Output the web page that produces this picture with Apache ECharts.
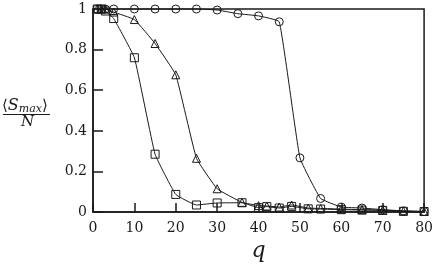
<!DOCTYPE html>
<html>
<head>
<meta charset="utf-8">
<script src="https://cdn.jsdelivr.net/npm/echarts@6/dist/echarts.min.js"></script>
<style>html,body{margin:0;padding:0;background:#fff;}#c{width:436px;height:267px;}</style>
</head>
<body>
<div id="c"></div>
<script>
var xTicks = [0, 10, 20, 30, 40, 50, 60, 70, 80];
var yTicks = [0, 0.2, 0.4, 0.6, 0.8, 1];

var qCircle = [1, 2, 3, 5, 10, 15, 20, 25, 30, 35, 40, 45, 50, 55, 60, 65, 70, 75, 80];
var sCircle = [1, 1, 1, 1, 1, 1, 1, 1, 0.995, 0.977, 0.966, 0.937, 0.267, 0.067, 0.025, 0.02, 0.012, 0.006, 0.003];

var qTriangle = [1, 2, 3, 5, 10, 15, 20, 25, 30, 36, 40, 42, 45, 48, 52, 55, 60, 65, 70, 75, 80];
var sTriangle = [1, 1, 1, 0.985, 0.948, 0.83, 0.676, 0.265, 0.115, 0.048, 0.032, 0.03, 0.025, 0.035, 0.02, 0.018, 0.015, 0.012, 0.01, 0.005, 0.003];

var qSquare = [1, 2, 3, 5, 10, 15, 20, 25, 30, 36, 40, 42, 45, 48, 52, 55, 60, 65, 70, 75, 80];
var sSquare = [1, 1, 0.99, 0.953, 0.76, 0.285, 0.087, 0.035, 0.045, 0.046, 0.022, 0.027, 0.02, 0.028, 0.016, 0.015, 0.012, 0.01, 0.008, 0.004, 0.003];

function pairs(xs, ys) { return xs.map(function (x, i) { return [x, ys[i]]; }); }

var FONT = 'DejaVu Serif';
var INK = '#1a1a1a';

function series(name, sym, xs, ys) {
  return {
    name: name, type: 'line', data: pairs(xs, ys),
    symbol: sym, symbolSize: 8, clip: false, smooth: 0.1,
    lineStyle: { color: INK, width: 1 },
    itemStyle: { color: 'rgba(255,255,255,0)', borderColor: INK, borderWidth: 1 },
    emphasis: { disabled: true }, animation: false
  };
}

var chart = echarts.init(document.getElementById('c'), null, { renderer: 'canvas' });
chart.setOption({
  animation: false,
  backgroundColor: '#fff',
  grid: { left: 93, right: 11, top: 9, bottom: 50, show: true, borderColor: INK, borderWidth: 1.5, backgroundColor: 'transparent' },
  xAxis: {
    type: 'value', min: xTicks[0], max: xTicks[xTicks.length - 1], interval: 10,
    name: 'q', nameLocation: 'middle', nameGap: 21,
    nameTextStyle: { fontFamily: FONT, fontStyle: 'italic', fontSize: 22, color: INK },
    axisLine: { lineStyle: { color: INK, width: 1.5 } },
    axisTick: { inside: true, length: 9, lineStyle: { color: INK, width: 1.5 } },
    axisLabel: { fontFamily: FONT, fontSize: 14, color: INK, margin: 9 },
    splitLine: { show: false }
  },
  yAxis: {
    type: 'value', min: yTicks[0], max: yTicks[yTicks.length - 1], interval: 0.2,
    axisLine: { show: true, lineStyle: { color: INK, width: 1.5 } },
    axisTick: { show: true, inside: true, length: 10, lineStyle: { color: INK, width: 1.5 } },
    axisLabel: { fontFamily: FONT, fontSize: 14, color: INK, margin: 6 },
    splitLine: { show: false }
  },
  graphic: [
    {
      type: 'text', left: 2, top: 98,
      style: {
        text: '{b|⟨}{i|S}{sub|max}{b|⟩}',
        rich: {
          b: { fontFamily: FONT, fontSize: 15, fill: INK },
          i: { fontFamily: FONT, fontStyle: 'italic', fontSize: 16, fill: INK },
          sub: { fontFamily: FONT, fontStyle: 'italic', fontSize: 11, fill: INK, verticalAlign: 'bottom', padding: [7, 0, 0, 0] }
        }
      }
    },
    { type: 'line', shape: { x1: 3, y1: 114.5, x2: 50, y2: 114.5 }, style: { stroke: INK, lineWidth: 1 } },
    {
      type: 'text', left: 21, top: 115,
      style: { text: 'N', fontFamily: FONT, fontStyle: 'italic', fontSize: 15, fill: INK }
    }
  ],
  series: [
    series('circle', 'circle', qCircle, sCircle),
    series('triangle', 'triangle', qTriangle, sTriangle),
    series('square', 'rect', qSquare, sSquare)
  ]
});
</script>
</body>
</html>
